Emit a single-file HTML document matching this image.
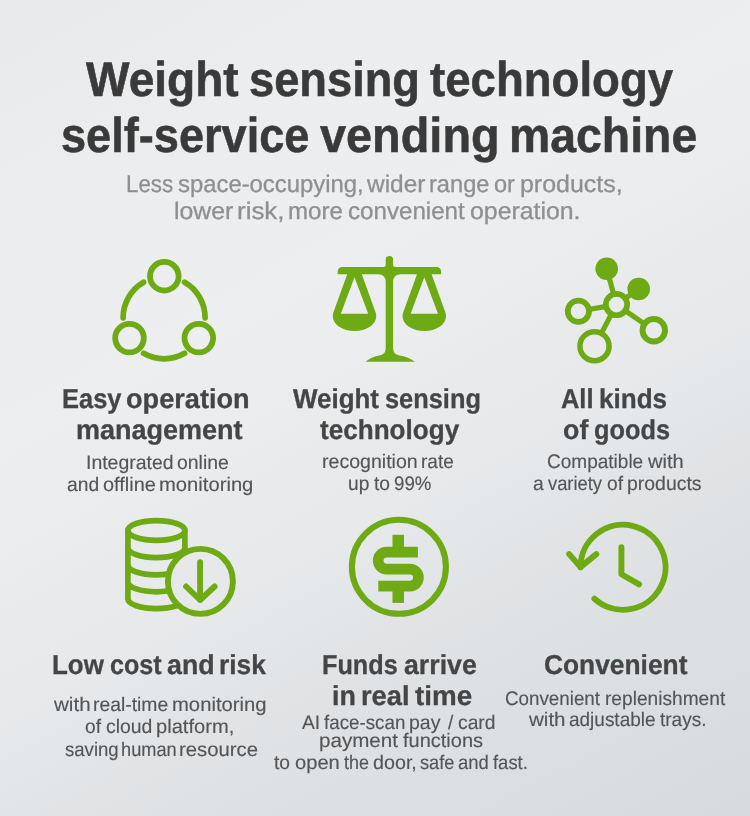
<!DOCTYPE html>
<html lang="en"><head><meta charset="utf-8"><title>Weight sensing technology self-service vending machine</title>
<style>
html,body{margin:0;padding:0}
body{width:750px;height:816px;position:relative;overflow:hidden;font-family:"Liberation Sans",sans-serif;background:#e8eaec}
.bg{position:absolute;left:0;top:0;width:750px;height:816px;background:linear-gradient(151.6deg,#e8eaeb 0%,#e8eaec 4%,#ecedee 18%,#edeef0 37%,#ebecee 46%,#e9eaec 51%,#e7e9eb 59%,#e3e6e8 65%,#e1e3e5 69%,#dde0e2 81%,#d9dcdf 96%,#d8dbde 100%)}
.tx{position:absolute;left:0;top:0;width:750px;height:816px;will-change:transform}
.t{position:absolute;white-space:pre;text-rendering:geometricPrecision;line-height:1;transform-origin:0 0}
svg{position:absolute;left:0;top:0}
</style></head><body>
<div class="bg"></div>
<svg width="750" height="816" viewBox="0 0 750 816">
<path d="M143.60,282.29 A41,41 0 0 0 123.10,317.80" fill="none" stroke="#6eaa13" stroke-width="5.7" stroke-linecap="round"/>
<path d="M184.60,282.29 A41,41 0 0 1 205.10,317.80" fill="none" stroke="#6eaa13" stroke-width="5.7" stroke-linecap="round"/>
<path d="M184.60,353.31 A41,41 0 0 1 143.60,353.31" fill="none" stroke="#6eaa13" stroke-width="5.7" stroke-linecap="round"/>
<circle cx="164.3" cy="276.2" r="14.3" fill="none" stroke="#6eaa13" stroke-width="5.8"/>
<circle cx="129.5" cy="338.1" r="14.3" fill="none" stroke="#6eaa13" stroke-width="5.8"/>
<circle cx="198.8" cy="338.1" r="14.3" fill="none" stroke="#6eaa13" stroke-width="5.8"/>
<path d="M342,267 L383.7,267 Q385.7,267 385.7,265 L385.7,259.8 A3.7,3.7 0 0 1 393.1,259.8 L393.1,265 Q393.1,267 395.1,267 L436.8,267 A4.3,4.3 0 0 1 441.1,271.3 L441.1,274.3 L400.9,274.3 Q393.1,274.3 393.1,282 L393.1,348 Q393.1,354 398.4,355.2 Q409.4,357 414.9,361.8 L365.6,361.8 Q370.4,357 380.4,355.2 Q385.7,354 385.7,348 L385.7,282 Q385.7,274.3 377.9,274.3 L337.7,274.3 L337.7,271.3 A4.3,4.3 0 0 1 342,267 Z  M347.20,274.3 L333.20,313 Q332.70,314.6 332.80,316.4 A21.7,14.7 0 0 0 376.20,316.4 Q376.30,314.6 375.80,313 L361.80,274.3 Z M354.50,277.3 L340.80,313.7 L368.20,313.7 Z M417.00,274.3 L403.00,313 Q402.50,314.6 402.60,316.4 A21.7,14.7 0 0 0 446.00,316.4 Q446.10,314.6 445.60,313 L431.60,274.3 Z M424.30,277.3 L410.60,313.7 L438.00,313.7 Z" fill="#6eaa13" fill-rule="evenodd"/>
<line x1="616.5" y1="304.6" x2="606.7" y2="268.7" stroke="#6eaa13" stroke-width="5.2"/>
<line x1="616.5" y1="304.6" x2="638.7" y2="289" stroke="#6eaa13" stroke-width="5.2"/>
<line x1="616.5" y1="304.6" x2="578.4" y2="311.2" stroke="#6eaa13" stroke-width="5.2"/>
<line x1="616.5" y1="304.6" x2="594.5" y2="346.2" stroke="#6eaa13" stroke-width="5.2"/>
<line x1="616.5" y1="304.6" x2="653.8" y2="330.3" stroke="#6eaa13" stroke-width="5.2"/>
<circle cx="606.7" cy="268.7" r="11.3" fill="#6eaa13"/>
<circle cx="638.7" cy="289" r="11.3" fill="#6eaa13"/>
<circle cx="578.4" cy="311.2" r="10.65" fill="#e8eaec" stroke="#6eaa13" stroke-width="5.7"/>
<circle cx="594.5" cy="346.2" r="14.55" fill="#e8eaec" stroke="#6eaa13" stroke-width="5.5"/>
<circle cx="653.8" cy="330.3" r="11.25" fill="#e8eaec" stroke="#6eaa13" stroke-width="5.9"/>
<circle cx="616.5" cy="304.6" r="10.65" fill="#e8eaec" stroke="#6eaa13" stroke-width="5.7"/>
<path d="M127.9,530.5 L127.9,598.8 M184.9,530.5 L184.9,598.8 M127.9,547.8 A28.5,9.9 0 0 0 184.9,547.8 M127.9,565.0 A28.5,9.9 0 0 0 184.9,565.0 M127.9,581.9 A28.5,9.9 0 0 0 184.9,581.9 M127.9,598.8 A28.5,9.9 0 0 0 184.9,598.8 " fill="none" stroke="#6eaa13" stroke-width="5.7" stroke-linecap="round"/>
<ellipse cx="156.4" cy="530.5" rx="28.5" ry="9.9" fill="none" stroke="#6eaa13" stroke-width="5.7"/>
<circle cx="200.4" cy="581.4" r="32.5" fill="#e6e8ea" stroke="#6eaa13" stroke-width="5.9"/>
<path d="M200.1,562.2 L200.1,600 M186.1,586.5 L200.1,600 L214.6,586.5" fill="none" stroke="#6eaa13" stroke-width="5.9" stroke-linecap="round" stroke-linejoin="round"/>
<circle cx="398.9" cy="566.8" r="47" fill="none" stroke="#6eaa13" stroke-width="6.1"/>
<path d="M417.9,552.1 L386.7,552.1 A8.5,8.5 0 0 0 386.7,569.1 L409.9,569.1 A8.5,8.5 0 0 1 409.9,586.1 L378.3,586.1" fill="none" stroke="#6eaa13" stroke-width="10.7"/>
<rect x="392.5" y="534.8" width="11.5" height="12.5" fill="#6eaa13"/>
<rect x="392.5" y="591" width="11.5" height="11.9" fill="#6eaa13"/>
<path d="M594.40,598.73 A42.5,42.5 0 1 0 580.5,567.3" fill="none" stroke="#6eaa13" stroke-width="5.9" stroke-linecap="round"/>
<path d="M569.2,554.1 L580.5,567.1 L596.3,554.1 M621.4,547.1 L621.4,574.3 L639.1,584.4" fill="none" stroke="#6eaa13" stroke-width="5.9" stroke-linecap="round" stroke-linejoin="round"/>
</svg>
<div class="tx">
<div class="t" style="left:85.84px;top:56px;font-size:48.8px;font-weight:bold;color:#3a3a3a;-webkit-text-stroke:0.55px #3a3a3a;transform:scaleX(0.9439)">Weight</div>
<div class="t" style="left:248.59px;top:56px;font-size:48.8px;font-weight:bold;color:#3a3a3a;-webkit-text-stroke:0.55px #3a3a3a;transform:scaleX(0.9273)">sensing</div>
<div class="t" style="left:429.74px;top:56px;font-size:48.8px;font-weight:bold;color:#3a3a3a;-webkit-text-stroke:0.55px #3a3a3a;transform:scaleX(0.9341)">technology</div>
<div class="t" style="left:60.89px;top:112px;font-size:48.8px;font-weight:bold;color:#3a3a3a;-webkit-text-stroke:0.55px #3a3a3a;transform:scaleX(0.9248)">self-service</div>
<div class="t" style="left:320.05px;top:112px;font-size:48.8px;font-weight:bold;color:#3a3a3a;-webkit-text-stroke:0.55px #3a3a3a;transform:scaleX(0.9603)">vending</div>
<div class="t" style="left:509.19px;top:112px;font-size:48.8px;font-weight:bold;color:#3a3a3a;-webkit-text-stroke:0.55px #3a3a3a;transform:scaleX(0.9505)">machine</div>
<div class="t" style="left:126.33px;top:173px;font-size:24.0px;font-weight:normal;color:#8f8f8f;-webkit-text-stroke:0.3px #8f8f8f;transform:scaleX(0.9300)">Less</div>
<div class="t" style="left:177.56px;top:173px;font-size:24.0px;font-weight:normal;color:#8f8f8f;-webkit-text-stroke:0.3px #8f8f8f;transform:scaleX(0.9940)">space-occupying,</div>
<div class="t" style="left:366.99px;top:173px;font-size:24.0px;font-weight:normal;color:#8f8f8f;-webkit-text-stroke:0.3px #8f8f8f;transform:scaleX(1.0180)">wider</div>
<div class="t" style="left:429.48px;top:173px;font-size:24.0px;font-weight:normal;color:#8f8f8f;-webkit-text-stroke:0.3px #8f8f8f;transform:scaleX(0.9844)">range</div>
<div class="t" style="left:494.33px;top:173px;font-size:24.0px;font-weight:normal;color:#8f8f8f;-webkit-text-stroke:0.3px #8f8f8f;transform:scaleX(0.9800)">or</div>
<div class="t" style="left:520.03px;top:173px;font-size:24.0px;font-weight:normal;color:#8f8f8f;-webkit-text-stroke:0.3px #8f8f8f;transform:scaleX(1.0395)">products,</div>
<div class="t" style="left:174.24px;top:200px;font-size:24.0px;font-weight:normal;color:#8f8f8f;-webkit-text-stroke:0.3px #8f8f8f;transform:scaleX(1.0329)">lower</div>
<div class="t" style="left:237.44px;top:200px;font-size:24.0px;font-weight:normal;color:#8f8f8f;-webkit-text-stroke:0.3px #8f8f8f;transform:scaleX(1.0799)">risk,</div>
<div class="t" style="left:287.75px;top:200px;font-size:24.0px;font-weight:normal;color:#8f8f8f;-webkit-text-stroke:0.3px #8f8f8f;transform:scaleX(1.0040)">more</div>
<div class="t" style="left:347.50px;top:200px;font-size:24.0px;font-weight:normal;color:#8f8f8f;-webkit-text-stroke:0.3px #8f8f8f;transform:scaleX(1.0057)">convenient</div>
<div class="t" style="left:469.97px;top:200px;font-size:24.0px;font-weight:normal;color:#8f8f8f;-webkit-text-stroke:0.3px #8f8f8f;transform:scaleX(1.0349)">operation.</div>
<div class="t" style="left:62.07px;top:385px;font-size:27.4px;font-weight:bold;color:#454545;-webkit-text-stroke:0.3px #454545;transform:scaleX(0.9300)">Easy</div>
<div class="t" style="left:126.27px;top:385px;font-size:27.4px;font-weight:bold;color:#454545;-webkit-text-stroke:0.3px #454545;transform:scaleX(0.9905)">operation</div>
<div class="t" style="left:75.71px;top:416px;font-size:27.4px;font-weight:bold;color:#454545;-webkit-text-stroke:0.3px #454545;transform:scaleX(0.9859)">management</div>
<div class="t" style="left:293.04px;top:385px;font-size:27.4px;font-weight:bold;color:#454545;-webkit-text-stroke:0.3px #454545;transform:scaleX(0.9470)">Weight</div>
<div class="t" style="left:384.94px;top:385px;font-size:27.4px;font-weight:bold;color:#454545;-webkit-text-stroke:0.3px #454545;transform:scaleX(0.9268)">sensing</div>
<div class="t" style="left:319.57px;top:416px;font-size:27.4px;font-weight:bold;color:#454545;-webkit-text-stroke:0.3px #454545;transform:scaleX(0.9525)">technology</div>
<div class="t" style="left:560.78px;top:385px;font-size:27.4px;font-weight:bold;color:#454545;-webkit-text-stroke:0.3px #454545;transform:scaleX(0.9284)">All</div>
<div class="t" style="left:598.70px;top:385px;font-size:27.4px;font-weight:bold;color:#454545;-webkit-text-stroke:0.3px #454545;transform:scaleX(0.9517)">kinds</div>
<div class="t" style="left:563.48px;top:416px;font-size:27.4px;font-weight:bold;color:#454545;-webkit-text-stroke:0.3px #454545;transform:scaleX(0.9789)">of</div>
<div class="t" style="left:593.86px;top:416px;font-size:27.4px;font-weight:bold;color:#454545;-webkit-text-stroke:0.3px #454545;transform:scaleX(0.9247)">goods</div>
<div class="t" style="left:51.80px;top:651px;font-size:27.4px;font-weight:bold;color:#454545;-webkit-text-stroke:0.3px #454545;transform:scaleX(0.9467)">Low</div>
<div class="t" style="left:109.64px;top:651px;font-size:27.4px;font-weight:bold;color:#454545;-webkit-text-stroke:0.3px #454545;transform:scaleX(0.9175)">cost</div>
<div class="t" style="left:167.07px;top:651px;font-size:27.4px;font-weight:bold;color:#454545;-webkit-text-stroke:0.3px #454545;transform:scaleX(0.9786)">and</div>
<div class="t" style="left:219.05px;top:651px;font-size:27.4px;font-weight:bold;color:#454545;-webkit-text-stroke:0.3px #454545;transform:scaleX(0.9607)">risk</div>
<div class="t" style="left:321.94px;top:651px;font-size:27.4px;font-weight:bold;color:#454545;-webkit-text-stroke:0.3px #454545;transform:scaleX(0.9212)">Funds</div>
<div class="t" style="left:403.67px;top:651px;font-size:27.4px;font-weight:bold;color:#454545;-webkit-text-stroke:0.3px #454545;transform:scaleX(0.9750)">arrive</div>
<div class="t" style="left:331.70px;top:682px;font-size:27.4px;font-weight:bold;color:#454545;-webkit-text-stroke:0.3px #454545;transform:scaleX(0.9800)">in</div>
<div class="t" style="left:361.39px;top:682px;font-size:27.4px;font-weight:bold;color:#454545;-webkit-text-stroke:0.3px #454545;transform:scaleX(0.9965)">real</div>
<div class="t" style="left:414.75px;top:682px;font-size:27.4px;font-weight:bold;color:#454545;-webkit-text-stroke:0.3px #454545;transform:scaleX(1.0143)">time</div>
<div class="t" style="left:544.42px;top:651px;font-size:27.4px;font-weight:bold;color:#454545;-webkit-text-stroke:0.3px #454545;transform:scaleX(0.9620)">Convenient</div>
<div class="t" style="left:86.32px;top:454px;font-size:19.6px;font-weight:normal;color:#555555;-webkit-text-stroke:0.15px #555555;transform:scaleX(0.9921)">Integrated</div>
<div class="t" style="left:177.36px;top:454px;font-size:19.6px;font-weight:normal;color:#555555;-webkit-text-stroke:0.15px #555555;transform:scaleX(0.9922)">online</div>
<div class="t" style="left:67.23px;top:476px;font-size:19.6px;font-weight:normal;color:#555555;-webkit-text-stroke:0.15px #555555;transform:scaleX(0.9816)">and</div>
<div class="t" style="left:103.25px;top:476px;font-size:19.6px;font-weight:normal;color:#555555;-webkit-text-stroke:0.15px #555555;transform:scaleX(1.0179)">offline</div>
<div class="t" style="left:159.45px;top:476px;font-size:19.6px;font-weight:normal;color:#555555;-webkit-text-stroke:0.15px #555555;transform:scaleX(1.0314)">monitoring</div>
<div class="t" style="left:321.50px;top:453px;font-size:19.6px;font-weight:normal;color:#555555;-webkit-text-stroke:0.15px #555555;transform:scaleX(0.9982)">recognition</div>
<div class="t" style="left:421.14px;top:453px;font-size:19.6px;font-weight:normal;color:#555555;-webkit-text-stroke:0.15px #555555;transform:scaleX(0.9700)">rate</div>
<div class="t" style="left:347.58px;top:475px;font-size:19.6px;font-weight:normal;color:#555555;-webkit-text-stroke:0.15px #555555;transform:scaleX(0.9800)">up</div>
<div class="t" style="left:374.45px;top:475px;font-size:19.6px;font-weight:normal;color:#555555;-webkit-text-stroke:0.15px #555555;transform:scaleX(0.9800)">to</div>
<div class="t" style="left:394.47px;top:475px;font-size:19.6px;font-weight:normal;color:#555555;-webkit-text-stroke:0.15px #555555;transform:scaleX(0.9541)">99%</div>
<div class="t" style="left:546.78px;top:453px;font-size:19.6px;font-weight:normal;color:#555555;-webkit-text-stroke:0.15px #555555;transform:scaleX(0.9705)">Compatible</div>
<div class="t" style="left:648.33px;top:453px;font-size:19.6px;font-weight:normal;color:#555555;-webkit-text-stroke:0.15px #555555;transform:scaleX(1.0268)">with</div>
<div class="t" style="left:532.88px;top:475px;font-size:19.6px;font-weight:normal;color:#555555;-webkit-text-stroke:0.15px #555555;transform:scaleX(0.9800)">a</div>
<div class="t" style="left:548.12px;top:475px;font-size:19.6px;font-weight:normal;color:#555555;-webkit-text-stroke:0.15px #555555;transform:scaleX(0.9361)">variety</div>
<div class="t" style="left:606.91px;top:475px;font-size:19.6px;font-weight:normal;color:#555555;-webkit-text-stroke:0.15px #555555;transform:scaleX(0.9800)">of</div>
<div class="t" style="left:626.84px;top:475px;font-size:19.6px;font-weight:normal;color:#555555;-webkit-text-stroke:0.15px #555555;transform:scaleX(0.9918)">products</div>
<div class="t" style="left:53.53px;top:696px;font-size:19.6px;font-weight:normal;color:#555555;-webkit-text-stroke:0.15px #555555;transform:scaleX(1.0505)">with</div>
<div class="t" style="left:93.42px;top:696px;font-size:19.6px;font-weight:normal;color:#555555;-webkit-text-stroke:0.15px #555555;transform:scaleX(0.9861)">real-time</div>
<div class="t" style="left:171.85px;top:696px;font-size:19.6px;font-weight:normal;color:#555555;-webkit-text-stroke:0.15px #555555;transform:scaleX(1.0336)">monitoring</div>
<div class="t" style="left:84.96px;top:718px;font-size:19.6px;font-weight:normal;color:#555555;-webkit-text-stroke:0.15px #555555;transform:scaleX(0.9800)">of</div>
<div class="t" style="left:105.58px;top:718px;font-size:19.6px;font-weight:normal;color:#555555;-webkit-text-stroke:0.15px #555555;transform:scaleX(0.9905)">cloud</div>
<div class="t" style="left:155.69px;top:718px;font-size:19.6px;font-weight:normal;color:#555555;-webkit-text-stroke:0.15px #555555;transform:scaleX(1.0267)">platform,</div>
<div class="t" style="left:65.14px;top:741px;font-size:19.6px;font-weight:normal;color:#555555;-webkit-text-stroke:0.15px #555555;transform:scaleX(0.9482)">saving</div>
<div class="t" style="left:120.61px;top:741px;font-size:19.6px;font-weight:normal;color:#555555;-webkit-text-stroke:0.15px #555555;transform:scaleX(0.9300)">human</div>
<div class="t" style="left:178.66px;top:741px;font-size:19.6px;font-weight:normal;color:#555555;-webkit-text-stroke:0.15px #555555;transform:scaleX(1.0360)">resource</div>
<div class="t" style="left:301.63px;top:714px;font-size:19.6px;font-weight:normal;color:#555555;-webkit-text-stroke:0.15px #555555;transform:scaleX(0.9800)">AI</div>
<div class="t" style="left:324.10px;top:714px;font-size:19.6px;font-weight:normal;color:#555555;-webkit-text-stroke:0.15px #555555;transform:scaleX(0.9573)">face-scan</div>
<div class="t" style="left:409.33px;top:714px;font-size:19.6px;font-weight:normal;color:#555555;-webkit-text-stroke:0.15px #555555;transform:scaleX(0.9943)">pay</div>
<div class="t" style="left:447.72px;top:714px;font-size:19.6px;font-weight:normal;color:#555555;-webkit-text-stroke:0.15px #555555;transform:scaleX(0.9800)">/</div>
<div class="t" style="left:458.38px;top:714px;font-size:19.6px;font-weight:normal;color:#555555;-webkit-text-stroke:0.15px #555555;transform:scaleX(0.9825)">card</div>
<div class="t" style="left:318.56px;top:732px;font-size:19.6px;font-weight:normal;color:#555555;-webkit-text-stroke:0.15px #555555;transform:scaleX(1.0504)">payment</div>
<div class="t" style="left:402.59px;top:732px;font-size:19.6px;font-weight:normal;color:#555555;-webkit-text-stroke:0.15px #555555;transform:scaleX(1.0209)">functions</div>
<div class="t" style="left:274.25px;top:754px;font-size:19.6px;font-weight:normal;color:#555555;-webkit-text-stroke:0.15px #555555;transform:scaleX(0.9800)">to</div>
<div class="t" style="left:294.74px;top:754px;font-size:19.6px;font-weight:normal;color:#555555;-webkit-text-stroke:0.15px #555555;transform:scaleX(1.0281)">open</div>
<div class="t" style="left:343.50px;top:754px;font-size:19.6px;font-weight:normal;color:#555555;-webkit-text-stroke:0.15px #555555;transform:scaleX(0.9154)">the</div>
<div class="t" style="left:372.85px;top:754px;font-size:19.6px;font-weight:normal;color:#555555;-webkit-text-stroke:0.15px #555555;transform:scaleX(1.0057)">door,</div>
<div class="t" style="left:419.73px;top:754px;font-size:19.6px;font-weight:normal;color:#555555;-webkit-text-stroke:0.15px #555555;transform:scaleX(0.9300)">safe</div>
<div class="t" style="left:458.36px;top:754px;font-size:19.6px;font-weight:normal;color:#555555;-webkit-text-stroke:0.15px #555555;transform:scaleX(0.9425)">and</div>
<div class="t" style="left:493.10px;top:754px;font-size:19.6px;font-weight:normal;color:#555555;-webkit-text-stroke:0.15px #555555;transform:scaleX(0.9409)">fast.</div>
<div class="t" style="left:505.29px;top:690px;font-size:19.6px;font-weight:normal;color:#555555;-webkit-text-stroke:0.15px #555555;transform:scaleX(0.9582)">Convenient</div>
<div class="t" style="left:604.53px;top:690px;font-size:19.6px;font-weight:normal;color:#555555;-webkit-text-stroke:0.15px #555555;transform:scaleX(0.9766)">replenishment</div>
<div class="t" style="left:529.13px;top:711px;font-size:19.6px;font-weight:normal;color:#555555;-webkit-text-stroke:0.15px #555555;transform:scaleX(1.0475)">with</div>
<div class="t" style="left:569.14px;top:711px;font-size:19.6px;font-weight:normal;color:#555555;-webkit-text-stroke:0.15px #555555;transform:scaleX(0.9686)">adjustable</div>
<div class="t" style="left:659.89px;top:711px;font-size:19.6px;font-weight:normal;color:#555555;-webkit-text-stroke:0.15px #555555;transform:scaleX(0.9704)">trays.</div>
</div>
</body></html>
